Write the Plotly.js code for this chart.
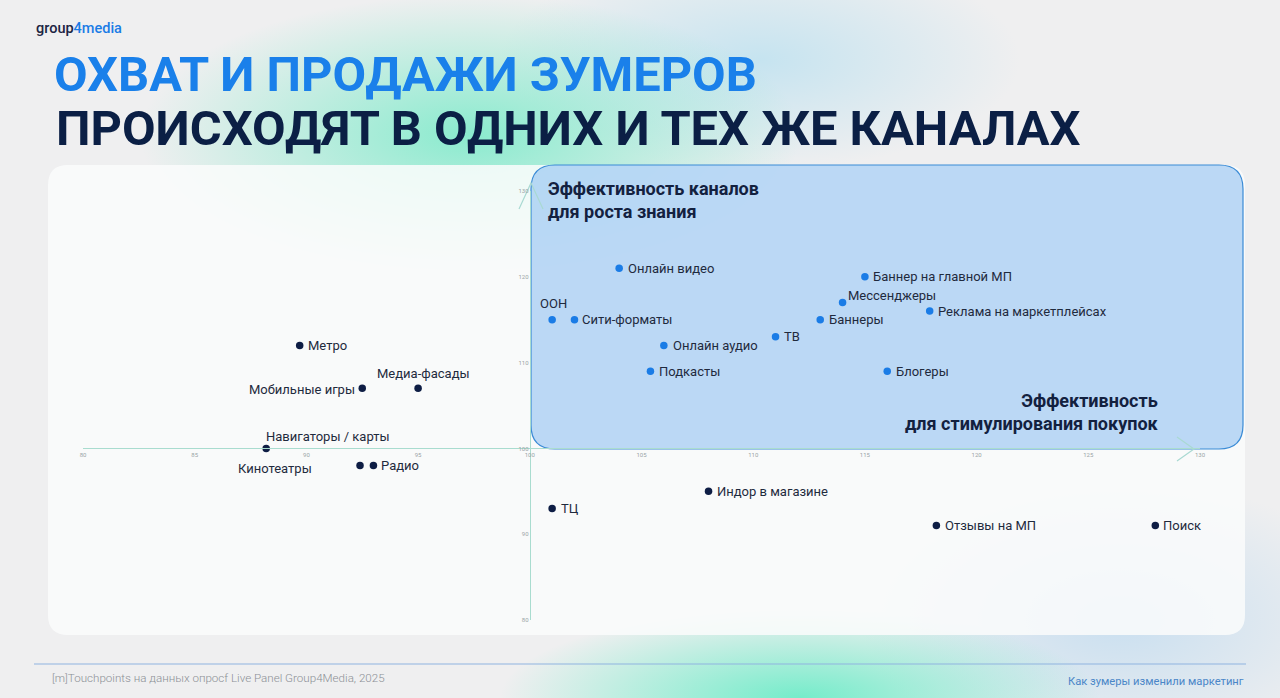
<!DOCTYPE html>
<html>
<head>
<meta charset="utf-8">
<script src="https://cdn.plot.ly/plotly-3.0.1.min.js"></script>
<style>
  html, body { margin:0; padding:0; width:1280px; height:698px; overflow:hidden; }
  body {
    background:
      radial-gradient(ellipse 330px 140px at 470px 135px, rgba(120,234,200,0.85), rgba(120,234,200,0) 100%),
      radial-gradient(ellipse 260px 110px at 760px 60px, rgba(170,220,240,0.6), rgba(170,220,240,0) 100%),
      radial-gradient(ellipse 300px 90px at 800px 698px, rgba(110,236,200,0.95), rgba(110,236,200,0) 100%),
      radial-gradient(ellipse 260px 140px at 1120px 620px, rgba(170,210,240,0.55), rgba(170,210,240,0) 100%),
      #efeff0;
    font-family: Roboto, sans-serif;
  }
  #chart { position:absolute; left:0; top:0; width:1280px; height:698px; }
</style>
</head>
<body>
<div id="chart"></div>
<script>
// ---- data ----
const channels = [
  "Метро", "Мобильные игры", "Медиа-фасады", "Навигаторы / карты", "Кинотеатры", "Радио",
  "ТЦ", "Индор в магазине", "Отзывы на МП", "Поиск",
  "ООН", "Сити-форматы", "Онлайн видео", "Онлайн аудио", "Подкасты", "ТВ",
  "Баннеры", "Мессенджеры", "Баннер на главной МП", "Реклама на маркетплейсах", "Блогеры"
];
const salesEffect = [   // x: эффективность для стимулирования покупок
  89.7, 92.5, 95.0, 88.2, 92.4, 93.0,
  101.0, 108.0, 118.2, 128.0,
  101.0, 102.0, 104.0, 106.0, 105.4, 111.0,
  113.0, 114.0, 115.0, 117.9, 116.0
];
const awarenessEffect = [ // y: эффективность для роста знания
  112, 107, 107, 100, 98, 98,
  93, 95, 91, 91,
  115, 115, 121, 112, 109, 113,
  115, 117, 120, 116, 109
];
const xTicks = [80, 85, 90, 95, 100, 105, 110, 115, 120, 125, 130];
const yTicks = [80, 90, 100, 110, 120, 130];

// ---- styling ----
const NAVY = '#0e1d44', BLUE = '#1a7ce6', LABEL = '#1f2a3d';
const labelPlacement = {   // [xanchor, xshift, yshift]
  "Метро": ['left', 6, 0],
  "Мобильные игры": ['right', -5, -1],
  "Медиа-фасады": ['center', 5, 15],
  "Навигаторы / карты": ['left', -2, 12],
  "Кинотеатры": ['right', -46, -3],
  "Радио": ['left', 6, 0],
  "ТЦ": ['left', 7, 0],
  "Индор в магазине": ['left', 6, 0],
  "Отзывы на МП": ['left', 7, 0],
  "Поиск": ['left', 6, 0],
  "ООН": ['center', 1, 16],
  "Сити-форматы": ['left', 6, 0],
  "Онлайн видео": ['left', 7, 0],
  "Онлайн аудио": ['left', 7, 0],
  "Подкасты": ['left', 7, 0],
  "ТВ": ['left', 6, 0],
  "Баннеры": ['left', 7, 0],
  "Мессенджеры": ['left', 3, 7],
  "Баннер на главной МП": ['left', 6, 0],
  "Реклама на маркетплейсах": ['left', 6, 0],
  "Блогеры": ['left', 7, 0]
};

const M = {l:83, r:80, t:191, b:78};
const PW = 1280 - M.l - M.r, PH = 698 - M.t - M.b;
const px = x => (x - M.l) / PW;
const py = y => (698 - M.b - y) / PH;

function roundRect(x0, y0, x1, y1, r) {
  const P = (x, y) => px(x).toFixed(5) + ',' + py(y).toFixed(5);
  return 'M' + P(x0 + r, y0) + ' L' + P(x1 - r, y0) + ' Q' + P(x1, y0) + ' ' + P(x1, y0 + r) +
         ' L' + P(x1, y1 - r) + ' Q' + P(x1, y1) + ' ' + P(x1 - r, y1) +
         ' L' + P(x0 + r, y1) + ' Q' + P(x0, y1) + ' ' + P(x0, y1 - r) +
         ' L' + P(x0, y0 + r) + ' Q' + P(x0, y0) + ' ' + P(x0 + r, y0) + ' Z';
}

const colors = salesEffect.map((x, i) => (x > 100 && awarenessEffect[i] > 100) ? BLUE : NAVY);

const trace = {
  type: 'scatter', mode: 'markers',
  x: salesEffect, y: awarenessEffect, text: channels,
  marker: {size: 7.5, color: colors},
  hoverinfo: 'text', cliponaxis: false, showlegend: false
};

const annotations = channels.map((name, i) => {
  const p = labelPlacement[name] || ['left', 6, 0];
  return {
    x: salesEffect[i], y: awarenessEffect[i], xref: 'x', yref: 'y',
    text: name, showarrow: false, xanchor: p[0], yanchor: 'middle',
    xshift: p[1], yshift: p[2],
    font: {family: 'Roboto, sans-serif', size: 13, color: LABEL}
  };
});

const qFont = {family:'Roboto, sans-serif', size:18, weight:700, color:'#13213f'};
annotations.push(
  {xref:'paper', yref:'paper', x: px(54), y: py(128), xanchor:'left', yanchor:'middle', showarrow:false,
   text:'ПРОИСХОДЯТ В ОДНИХ И ТЕХ ЖЕ КАНАЛАХ',
   font:{family:'Roboto, sans-serif', size:48.8, weight:700, color:'#0b1f45'}},
  {xref:'paper', yref:'paper', x: px(34), y: py(28), xanchor:'left', yanchor:'middle', showarrow:false,
   text:'<span style="color:#1b2442">group</span><span style="color:#1a7ce6">4media</span>',
   font:{family:'Roboto, sans-serif', size:14.5, weight:500, color:'#1b2442'}},
  {xref:'paper', yref:'paper', x: px(546), y: py(200), xanchor:'left', yanchor:'middle', showarrow:false, align:'left',
   text:'Эффективность каналов<br>для роста знания', font: qFont},
  {xref:'paper', yref:'paper', x: px(1161), y: py(412), xanchor:'right', yanchor:'middle', showarrow:false, align:'right',
   text:'Эффективность<br>для стимулирования покупок', font: qFont},
  {xref:'paper', yref:'paper', x: px(50), y: py(678), xanchor:'left', yanchor:'middle', showarrow:false,
   text:'[m]Touchpoints на данных опросf Live Panel Group4Media, 2025',
   font:{family:'Roboto, sans-serif', size:11.6, weight:300, color:'#8c9096'}},
  {xref:'paper', yref:'paper', x: px(1246), y: py(681), xanchor:'right', yanchor:'middle', showarrow:false,
   text:'Как зумеры изменили маркетинг',
   font:{family:'Roboto, sans-serif', size:11.2, color:'#4a86c8'}}
);

const shapes = [
  {type:'path', xref:'paper', yref:'paper', layer:'below', path: roundRect(48, 165, 1245, 635, 20),
   fillcolor:'rgba(250,251,252,0.86)', line:{width:0}},
  {type:'path', xref:'paper', yref:'paper', layer:'below', path: roundRect(531, 165, 1243, 449, 24),
   fillcolor:'rgba(110,175,240,0.45)', line:{color:'#3a8bd6', width:1.2}},
  // axis arrows
  {type:'path', xref:'paper', yref:'paper', layer:'below',
   path:'M'+px(1177)+','+py(437)+' L'+px(1194)+','+py(449)+' L'+px(1177)+','+py(461),
   line:{color:'#a9d9d2', width:1.2}},
  {type:'path', xref:'paper', yref:'paper', layer:'below',
   path:'M'+px(519)+','+py(209)+' L'+px(531)+','+py(183)+' L'+px(543)+','+py(209),
   line:{color:'#a9d9d2', width:1.2}},
  // footer rule
  {type:'line', xref:'paper', yref:'paper', x0:px(34), x1:px(1246), y0:py(664), y1:py(664),
   line:{color:'#8fb4e0', width:1.2}}
];

const layout = {
  width: 1280, height: 698,
  margin: M,
  paper_bgcolor: 'rgba(0,0,0,0)', plot_bgcolor: 'rgba(0,0,0,0)',
  title: {
    text: 'ОХВАТ И ПРОДАЖИ ЗУМЕРОВ',
    xref: 'container', yref: 'container', x: 54/1280, xanchor: 'left',
    y: 1 - 74/698, yanchor: 'middle',
    font: {family: 'Roboto, sans-serif', size: 48.8, weight: 700, color: '#1a80ea'}
  },
  xaxis: {
    range: [80, 130], anchor: 'free', position: 0.4,
    tickvals: xTicks, ticks: '', showgrid: false, zeroline: false,
    showline: true, linecolor: '#a9dccf', linewidth: 1,
    tickfont: {family: 'Roboto, sans-serif', size: 6, color: '#9aa5a7'}, fixedrange: true
  },
  yaxis: {
    range: [80, 130], anchor: 'free', position: 0.4,
    tickvals: yTicks, ticks: '', showgrid: false, zeroline: false,
    showline: true, linecolor: '#a9dccf', linewidth: 1,
    tickfont: {family: 'Roboto, sans-serif', size: 6, color: '#9aa5a7'}, fixedrange: true
  },
  shapes: shapes,
  annotations: annotations,
  showlegend: false,
  hovermode: 'closest'
};

Plotly.newPlot('chart', [trace], layout, {displayModeBar: false});
</script>
</body>
</html>
